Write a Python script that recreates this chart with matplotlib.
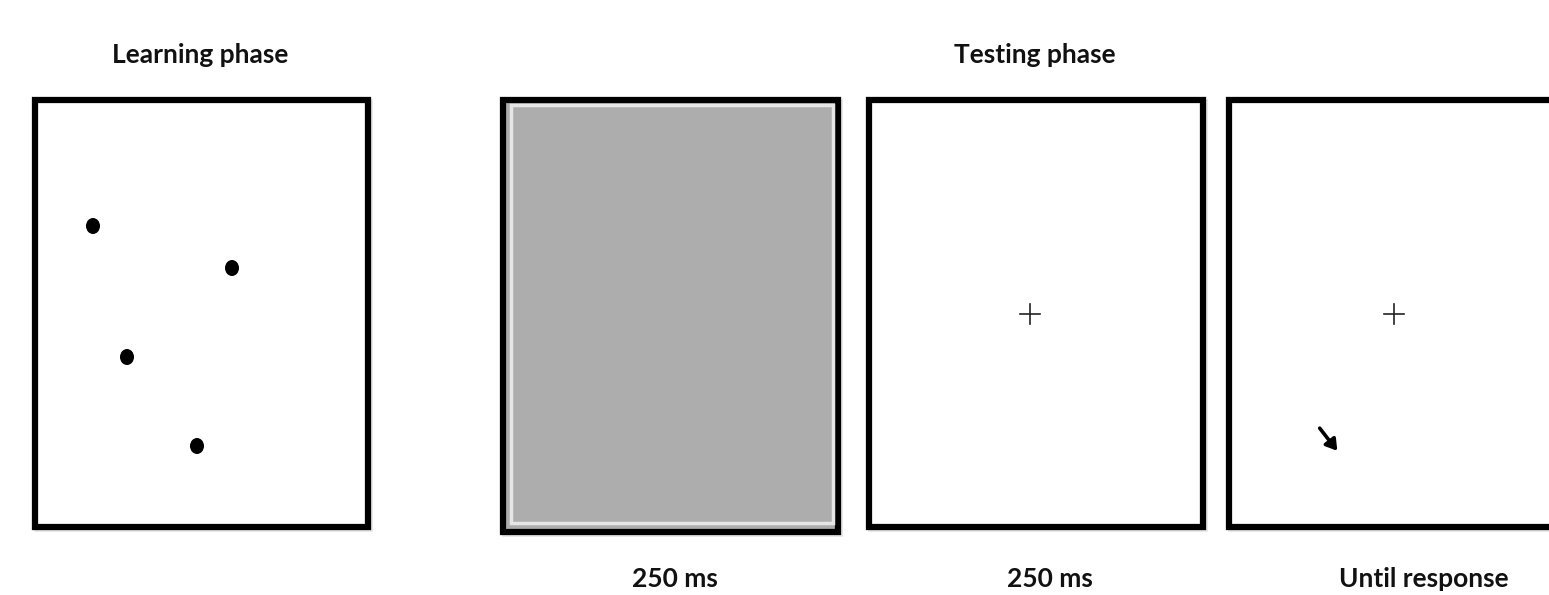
import matplotlib
matplotlib.use("Agg")
import matplotlib.pyplot as plt
from matplotlib.patches import Rectangle, Ellipse, FancyArrowPatch

# ---- data ----
phase_titles = ["Learning phase", "Testing phase"]
phase_title_x = [200, 1035]
panel_left = [35, 503, 869, 1229]
panel_right = [368, 838, 1203, 1560]
panel_top = [100, 100, 100, 100]
panel_bottom = [527, 532, 527, 527]
panel_fill = ["white", "#adadad", "white", "white"]
duration_labels = ["250 ms", "250 ms", "Until response"]
duration_x = [675, 1050, 1424]
dot_x = [93, 232, 127, 197]
dot_y = [226, 268, 357, 446]
cross_x = [1030, 1394]
cross_y = [314, 314]
arrow_start = (1318, 426)
arrow_end = (1339, 453)

W, H = 1549, 595
fig = plt.figure(figsize=(W / 100, H / 100), dpi=100)
ax = fig.add_axes([0, 0, 1, 1])
ax.set_xlim(0, W)
ax.set_ylim(H, 0)
ax.axis("off")

font = ["Lato", "DejaVu Sans"]

for t, x in zip(phase_titles, phase_title_x):
    ax.text(x, 55, t, ha="center", va="center", fontsize=19, fontweight="bold",
            family=font, color="#111111")

for i, (l, r, tp, b, fc) in enumerate(zip(panel_left, panel_right, panel_top, panel_bottom, panel_fill)):
    # soft shadow
    ax.add_patch(Rectangle((l + 2, tp + 2), r - l, b - tp, fill=False,
                           edgecolor="#e2e2e2", lw=4, zorder=1))
    ax.add_patch(Rectangle((l, tp), r - l, b - tp, facecolor=fc,
                           edgecolor="black", lw=4.5, zorder=2))
    if fc != "white":
        ax.add_patch(Rectangle((l + 8, tp + 5), r - l - 13, b - tp - 14, fill=False,
                               edgecolor="#e6e6e6", lw=2.5, zorder=3))

for x, y in zip(dot_x, dot_y):
    ax.add_patch(Ellipse((x, y), 14, 16, facecolor="black", edgecolor="none", zorder=4))

for x, y in zip(cross_x, cross_y):
    ax.plot([x - 10, x + 10], [y, y], color="#222222", lw=1.2, zorder=4)
    ax.plot([x, x], [y - 10, y + 10], color="#222222", lw=1.2, zorder=4)

ax.add_patch(FancyArrowPatch(arrow_start, arrow_end, arrowstyle="-|>,head_length=4,head_width=2.5",
                             mutation_scale=1.6, color="black", lw=2.6, zorder=4))

for t, x in zip(duration_labels, duration_x):
    ax.text(x, 579, t, ha="center", va="center", fontsize=19, fontweight="bold",
            family=font, color="#111111")

fig.savefig("out.png", dpi=100)
